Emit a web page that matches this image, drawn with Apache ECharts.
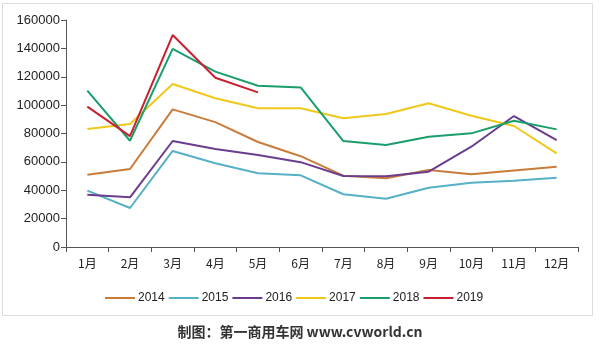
<!DOCTYPE html>
<html><head><meta charset="utf-8">
<script src="https://cdn.jsdelivr.net/npm/echarts@6/dist/echarts.min.js"></script>
<style>html,body{margin:0;padding:0;background:#fff}#c{width:600px;height:349px}</style>
</head><body><div id="c"></div>
<script>
const months = ['1月','2月','3月','4月','5月','6月','7月','8月','9月','10月','11月','12月'];
const s2014 = [51000, 55000, 97000, 88000, 74000, 64000, 50300, 48500, 54300, 51300, 54000, 56600];
const s2015 = [39700, 27500, 67700, 59000, 52000, 50500, 37200, 34000, 41800, 45300, 46700, 48800];
const s2016 = [36800, 35000, 74700, 69100, 64800, 59800, 50000, 49800, 53100, 70700, 92300, 75400];
const s2017 = [83200, 86700, 114900, 104800, 97800, 97800, 90700, 93700, 101300, 92500, 85300, 66000];
const s2018 = [110200, 74900, 139600, 123600, 113700, 112500, 74700, 71900, 77700, 80100, 89000, 82900];
const s2019 = [98900, 78200, 149400, 119300, 109000];
const names = ['2014','2015','2016','2017','2018','2019'];
const colors = ['#c97c3a','#56b0c6','#6a3d8f','#f0c81a','#1a9e6c','#c8202e'];
const datas = [s2014, s2015, s2016, s2017, s2018, s2019];

const chart = echarts.init(document.getElementById('c'));
chart.setOption({
  animation: false,
  color: colors,
  graphic: [
    {type:'rect', shape:{x:2.5,y:3.5,width:590,height:312}, style:{fill:'none', stroke:'#dcdcdc', lineWidth:1}, z:-1},
    {type:'text', left:'center', top:325, style:{text:'制图：第一商用车网 www.cvworld.cn', fill:'#333', font:'bold 14px "Noto Sans CJK SC", sans-serif'}}
  ],
  grid: {left:66, top:20, right:22, bottom:102},
  legend: {
    top: 287, left: 100,
    itemWidth: 30, itemHeight: 2, itemGap: 4,
    icon: 'rect',
    textStyle: {fontSize: 12, color:'#222', fontFamily:'"Liberation Sans", Arial, sans-serif', padding:[0,0,0,-2]},
    data: names
  },
  xAxis: {
    type:'category', data: months, boundaryGap: true,
    axisLine:{lineStyle:{color:'#555', width:1}},
    axisTick:{show:true, alignWithLabel:false, length:5, lineStyle:{color:'#555'}},
    axisLabel:{color:'#222', fontSize:12, margin:10, fontFamily:'"Noto Sans CJK SC", sans-serif'}
  },
  yAxis: {
    type:'value', min:0, max:160000, interval:20000,
    axisLine:{show:true, lineStyle:{color:'#555', width:1}},
    axisTick:{show:true, length:5, lineStyle:{color:'#555'}},
    splitLine:{show:false},
    axisLabel:{color:'#222', fontSize:13, margin:6, fontFamily:'"Liberation Sans", Arial, sans-serif', formatter: v => String(v)}
  },
  series: names.map((n,i)=>({
    name:n, type:'line', data: datas[i], symbol:'none',
    lineStyle:{width:2, color: colors[i]}, itemStyle:{color: colors[i]}
  }))
});
</script></body></html>
